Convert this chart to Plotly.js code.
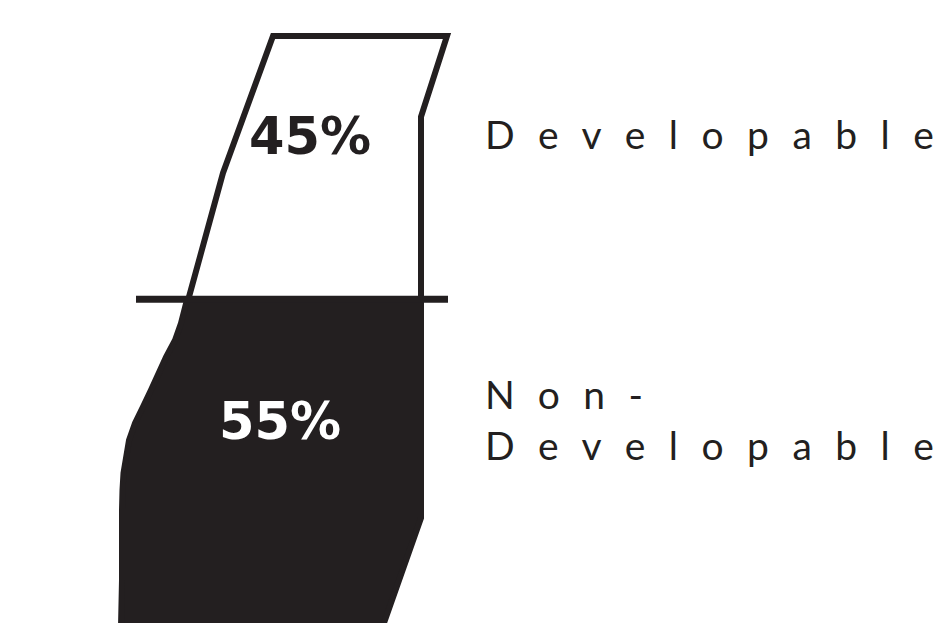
<!DOCTYPE html>
<html>
<head>
<meta charset="utf-8">
<script src="https://cdn.plot.ly/plotly-3.0.1.min.js"></script>
<style>
html, body { margin: 0; padding: 0; background: #ffffff; }
#chart { width: 948px; height: 623px; }
</style>
</head>
<body>
<div id="chart"></div>
<script>
// ---- data ----
const categories = ["Developable", "Non-Developable"];
const shares = [45, 55];               // percent of land area
const shareLabels = ["45%", "55%"];

// outline of the land area; y = percent of depth from top (0) to bottom (100)
const leftEdgeY  = [0,   23.4, 44.6, 45.1, 49.1, 52.0, 54.9, 57.6, 60.5, 63.4, 66.2, 69.1, 72.0, 74.7, 77.6, 81.0, 93.0, 101];
const leftEdgeX  = [273, 223,  189,  187,  181,  175,  166,  158,  151,  143,  135,  129,  125.5, 123.5, 122.5, 122,  122,  121];
const rightEdgeY = [0,   13.8, 82.4, 101];
const rightEdgeX = [447, 421,  421,  382.6];

// ---- helpers ----
function xAt(xs, ys, y) {
  for (let i = 0; i < ys.length - 1; i++) {
    if (y >= ys[i] && y <= ys[i + 1]) {
      const t = (y - ys[i]) / (ys[i + 1] - ys[i]);
      return xs[i] + t * (xs[i + 1] - xs[i]);
    }
  }
  return xs[xs.length - 1];
}
function spaced(word, keepLast) {
  // wide tracking between letters, none after the final character
  const head = word.slice(0, -1), tail = word.slice(-1);
  return '<span style="letter-spacing:23.5px">' + head + '</span>' + tail;
}
const split = shares[0];
const lSplit = xAt(leftEdgeX, leftEdgeY, split);
const rSplit = xAt(rightEdgeX, rightEdgeY, split);

// top (developable) polygon
const topX = [lSplit], topY = [split];
for (let i = leftEdgeY.length - 1; i >= 0; i--) if (leftEdgeY[i] < split) { topX.push(leftEdgeX[i]); topY.push(leftEdgeY[i]); }
for (let i = 0; i < rightEdgeY.length; i++) if (rightEdgeY[i] < split) { topX.push(rightEdgeX[i]); topY.push(rightEdgeY[i]); }
topX.push(rSplit); topY.push(split);
topX.push(lSplit); topY.push(split);

// bottom (non-developable) polygon
const botX = [lSplit], botY = [split];
for (let i = 0; i < leftEdgeY.length; i++) if (leftEdgeY[i] > split) { botX.push(leftEdgeX[i]); botY.push(leftEdgeY[i]); }
for (let i = rightEdgeY.length - 1; i >= 0; i--) if (rightEdgeY[i] > split) { botX.push(rightEdgeX[i]); botY.push(rightEdgeY[i]); }
botX.push(rSplit); botY.push(split);
botX.push(lSplit); botY.push(split);

const ink = "#231f20";

const traces = [
  { x: botX, y: botY, type: "scatter", mode: "lines", fill: "toself", fillcolor: ink,
    line: { color: ink, width: 6 }, name: categories[1], hoverinfo: "skip", showlegend: false },
  { x: topX, y: topY, type: "scatter", mode: "lines", fill: "toself", fillcolor: "#ffffff",
    line: { color: ink, width: 6 }, name: categories[0], hoverinfo: "skip", showlegend: false }
];

const pctFont = { family: "DejaVu Sans, Verdana, sans-serif", size: 51, weight: "bold" };
const lblFont = { family: "Lato, 'Open Sans', sans-serif", size: 39, color: ink, weight: 400 };

const nonParts = categories[1].split("-");   // ["Non", "Developable"]

const layout = {
  width: 948, height: 623,
  margin: { l: 0, r: 0, t: 0, b: 0, pad: 0 },
  paper_bgcolor: "#ffffff", plot_bgcolor: "#ffffff",
  showlegend: false,
  xaxis: { range: [0, 948], visible: false, fixedrange: true },
  yaxis: { range: [100.34, -6.15], visible: false, fixedrange: true },
  shapes: [
    { type: "line", xref: "x", yref: "y", x0: 136, x1: 448, y0: split, y1: split,
      line: { color: ink, width: 7 } }
  ],
  annotations: [
    { text: shareLabels[0], xref: "x", yref: "paper", x: 310, y: 1 - 136 / 623,
      xanchor: "center", yanchor: "middle", showarrow: false,
      font: Object.assign({ color: ink }, pctFont) },
    { text: shareLabels[1], xref: "x", yref: "paper", x: 280, y: 1 - 421 / 623,
      xanchor: "center", yanchor: "middle", showarrow: false,
      font: Object.assign({ color: "#ffffff" }, pctFont) },
    { text: spaced(categories[0]), xref: "x", yref: "paper", x: 483, y: 1 - 134 / 623,
      xanchor: "left", yanchor: "middle", align: "left", showarrow: false, font: lblFont },
    { text: spaced(nonParts[0] + "-") + "<br>" + spaced(nonParts[1]),
      xref: "x", yref: "paper", x: 483, y: 1 - 419 / 623,
      xanchor: "left", yanchor: "middle", align: "left", showarrow: false, font: lblFont }
  ]
};

Plotly.newPlot("chart", traces, layout, { staticPlot: true, displayModeBar: false });
</script>
</body>
</html>
